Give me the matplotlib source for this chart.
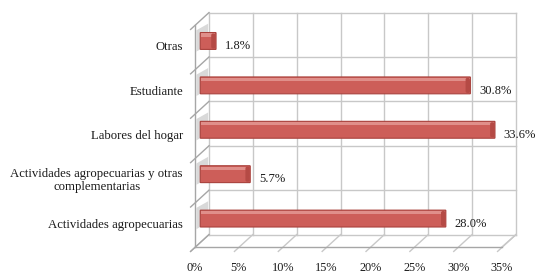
import matplotlib.pyplot as plt
from matplotlib.patches import FancyBboxPatch, Polygon

plt.rcParams['font.family'] = ['Liberation Serif', 'DejaVu Serif']

categories = [
    'Actividades agropecuarias',
    'Actividades agropecuarias y otras\ncomplementarias',
    'Labores del hogar',
    'Estudiante',
    'Otras',
]
values = [28.0, 5.7, 33.6, 30.8, 1.8]
x_ticks = [0, 5, 10, 15, 20, 25, 30, 35]
x_tick_labels = ['0%', '5%', '10%', '15%', '20%', '25%', '30%', '35%']

# oblique depth of the fake 3D box (x in %, y in category units)
DX = 1.6
DY = 0.28
BAR_H = 0.38
GRID = '#c8c8c8'
AXIS = '#a6a6a6'
TXT = '#1a1a1a'
BAR_FACE = '#cd5e59'
BAR_EDGE = '#a9423d'
BAR_TOP = '#e08f8a'
BAR_CAP = '#b54a45'

fig = plt.figure(figsize=(5.36, 2.73), dpi=100)
ax = fig.add_axes([0, 0, 1, 1])
ax.set_xlim(-22.23, 38.88)
ax.set_ylim(-0.586, 5.563)
ax.axis('off')

n = len(categories)
xmax = x_ticks[-1]

# back wall
for v in x_ticks:
    ax.plot([v + DX, v + DX], [DY, n + DY], color=GRID, lw=1.0, zorder=1)
for k in range(n + 1):
    ax.plot([DX, xmax + DX], [k + DY, k + DY], color=GRID, lw=1.0, zorder=1)

# floor
for v in x_ticks:
    ax.plot([v - 0.5, v + DX], [-0.1, DY], color=GRID, lw=1.0, zorder=1)
ax.plot([xmax, xmax + DX], [0, DY], color=GRID, lw=1.0, zorder=1)
ax.plot([0, xmax], [0, 0], color=AXIS, lw=1.0, zorder=2)

# left wall
for k in range(n + 1):
    ax.plot([-0.5, DX], [k - 0.1, k + DY], color=AXIS, lw=1.0, zorder=2)
ax.plot([0, 0], [0, n], color=AXIS, lw=1.0, zorder=2)

# bars
for i, v in enumerate(values):
    yc = i + 0.5 + DY / 2
    x0 = DX / 2 - 0.2
    # shadow on the side wall
    sh = Polygon([(0.15, yc - BAR_H / 2 - 0.05), (DX - 0.1, yc - BAR_H / 2 + 0.1),
                  (DX - 0.1, yc + BAR_H / 2 + 0.2), (0.15, yc + BAR_H / 2 + 0.05)],
                 closed=True, facecolor='#d9d9d9', edgecolor='none', zorder=2)
    ax.add_patch(sh)
    body = FancyBboxPatch((x0, yc - BAR_H / 2), v, BAR_H,
                          boxstyle='round,pad=0,rounding_size=0.05',
                          mutation_aspect=1 / 5.0,
                          facecolor=BAR_FACE, edgecolor=BAR_EDGE, lw=0.8, zorder=3)
    ax.add_patch(body)
    top = FancyBboxPatch((x0 + 0.1, yc + BAR_H / 2 - 0.09), v - 0.2, 0.07,
                         boxstyle='square,pad=0',
                         facecolor=BAR_TOP, edgecolor='none', zorder=4)
    ax.add_patch(top)
    cap = FancyBboxPatch((x0 + v - 0.55, yc - BAR_H / 2 + 0.02), 0.5, BAR_H - 0.04,
                         boxstyle='round,pad=0,rounding_size=0.2',
                         mutation_aspect=1 / 5.0,
                         facecolor=BAR_CAP, edgecolor='none', zorder=4)
    ax.add_patch(cap)
    ax.text(x0 + v + 1.0, yc - 0.12, f'{v:.1f}%', fontsize=9,
            ha='left', va='center', color=TXT, zorder=5)

# category labels
for i, name in enumerate(categories):
    ax.text(-1.37, i + 0.5, name, fontsize=9.2, ha='right', va='center',
            multialignment='center', color=TXT, linespacing=1.1)

# tick labels
for v, lab in zip(x_ticks, x_tick_labels):
    ax.text(v, -0.48, lab, fontsize=8.8, ha='center', va='center', color=TXT)

fig.savefig('out.png', dpi=100)
